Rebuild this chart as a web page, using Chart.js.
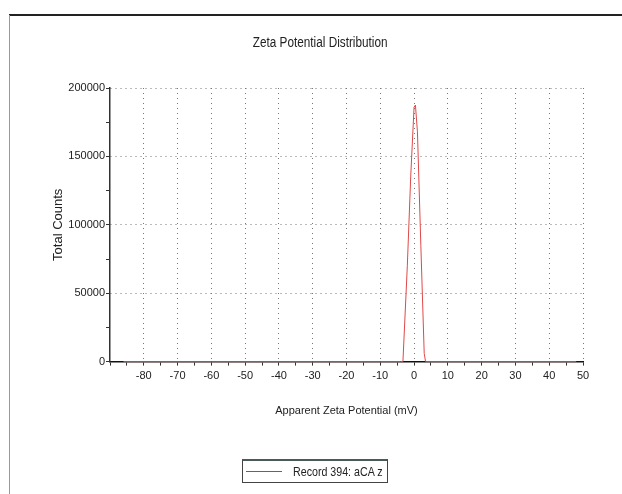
<!DOCTYPE html>
<html>
<head>
<meta charset="utf-8">
<script src="https://cdn.jsdelivr.net/npm/chart.js@4.4.1/dist/chart.umd.min.js"></script>
<style>
  html, body { margin: 0; padding: 0; background: #fff; }
  #wrap { position: relative; width: 622px; height: 494px; overflow: hidden; }
  #frameTop { position: absolute; left: 9px; top: 14px; width: 613px; height: 2px; background: #222; }
  #frameLeft { position: absolute; left: 9px; top: 15px; width: 1px; height: 479px; background: #999; }
  #title { position: absolute; left: 0; width: 640px; top: 33px; text-align: center; }
  #title span { display: inline-block; transform: scaleX(0.84); transform-origin: center;
           font: 14px "Liberation Sans", Arial, sans-serif; color: #222; }
  #legend { position: absolute; left: 242px; top: 459px; width: 146px; height: 24px;
            border: 1px solid #444; border-top: 2px solid #4a5a5a; box-sizing: border-box; }
  #legend .swatch { position: absolute; left: 3px; top: 10px; width: 36px; height: 1px; background: #e03030; }
  #legend .txt { position: absolute; left: 50px; top: 3px; white-space: nowrap;
                 transform: scaleX(0.82); transform-origin: left center;
                 font: 13px "Liberation Sans", Arial, sans-serif; color: #222; }
  canvas { position: absolute; left: 0; top: 0; }
</style>
</head>
<body>
<div id="wrap">
  <canvas id="c" width="622" height="494"></canvas>
  <div id="frameTop"></div>
  <div id="frameLeft"></div>
  <div id="title"><span>Zeta Potential Distribution</span></div>
  <div id="legend"><div class="swatch"></div><div class="txt">Record 394: aCA z</div></div>
</div>
<script>
// Data
const zetaPotential = [-86, -60, -30, -10, -4, -3.3, -2, -1, 0, 0.4, 1, 2, 3, 3.4, 20, 48];
const totalCounts   = [0, 0, 0, 0, 0, 0, 70000, 135000, 186000, 187500, 168000, 85000, 6000, 0, 0, 0];
const xTickLabels = [-80, -70, -60, -50, -40, -30, -20, -10, 0, 10, 20, 30, 40, 50];
const yTickLabels = [0, 50000, 100000, 150000, 200000];
const seriesName = 'Record 394: aCA z';

const points = zetaPotential.map((x, i) => ({ x: x, y: totalCounts[i] }));
const sans = '"Liberation Sans", Arial, sans-serif';

new Chart(document.getElementById('c'), {
  type: 'scatter',
  data: {
    datasets: [{
      label: seriesName,
      data: points,
      showLine: true,
      borderColor: '#e04848',
      borderWidth: 1,
      pointRadius: 0,
      tension: 0,
      fill: false,
      clip: 4
    }]
  },
  options: {
    responsive: false,
    animation: false,
    layout: { padding: { left: 40, right: 39, top: 88, bottom: 72 } },
    plugins: {
      legend: { display: false },
      title: { display: false },
      tooltip: { enabled: false }
    },
    scales: {
      x: {
        type: 'linear',
        min: -90,
        max: 50,
        border: { color: '#111', width: 1.5, dash: [1, 4] },
        grid: {
          color: ctx => (ctx.tick && ctx.tick.value % 10 === 0 && ctx.tick.value > -90) ? '#777' : 'rgba(0,0,0,0)',
          tickColor: '#333',
          tickLength: 4,
          lineWidth: 1
        },
        ticks: {
          stepSize: 5,
          autoSkip: false,
          maxRotation: 0,
          padding: 4,
          color: '#222',
          font: { family: sans, size: 11 },
          callback: v => xTickLabels.includes(v) ? String(v) : ''
        },
        title: {
          display: true,
          text: 'Apparent Zeta Potential (mV)',
          color: '#222',
          font: { family: sans, size: 11 },
          padding: { top: 18, bottom: 4 }
        }
      },
      y: {
        type: 'linear',
        min: 0,
        max: 200000,
        border: { color: '#333', width: 1.5, dash: [1, 4] },
        afterFit: s => { s.width = 70; },
        grid: {
          color: ctx => (ctx.tick && ctx.tick.value % 50000 === 0 && ctx.tick.value > 0) ? '#777' : 'rgba(0,0,0,0)',
          tickColor: '#333',
          tickLength: 4,
          lineWidth: 1
        },
        ticks: {
          stepSize: 25000,
          autoSkip: false,
          padding: 1,
          color: '#222',
          font: { family: sans, size: 11 },
          callback: v => yTickLabels.includes(v) ? String(v) : ''
        },
        title: {
          display: true,
          text: 'Total Counts',
          color: '#222',
          font: { family: sans, size: 13 },
          padding: { top: 11, bottom: 0 }
        }
      }
    }
  }
});
</script>
</body>
</html>
